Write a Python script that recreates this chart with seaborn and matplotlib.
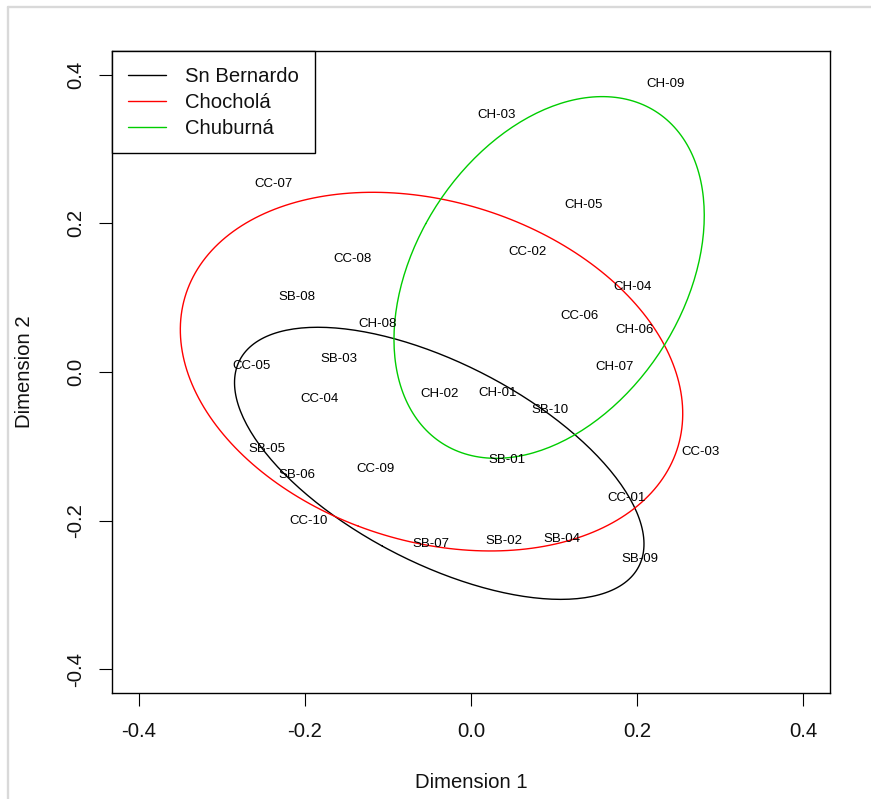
import numpy as np
import pandas as pd
import matplotlib
matplotlib.use("Agg")
import matplotlib.pyplot as plt
from matplotlib.lines import Line2D
import seaborn as sns

# ---------------- data ----------------
sb_labels = ["SB-01", "SB-02", "SB-03", "SB-04", "SB-05", "SB-06", "SB-07", "SB-08", "SB-09", "SB-10"]
sb_x = [0.043, 0.040, -0.159, 0.109, -0.246, -0.209, -0.048, -0.210, 0.203, 0.095]
sb_y = [-0.118, -0.227, 0.017, -0.225, -0.104, -0.138, -0.232, 0.101, -0.252, -0.051]

cc_labels = ["CC-01", "CC-02", "CC-03", "CC-04", "CC-05", "CC-06", "CC-07", "CC-08", "CC-09", "CC-10"]
cc_x = [0.187, 0.068, 0.276, -0.182, -0.264, 0.131, -0.238, -0.143, -0.115, -0.195]
cc_y = [-0.170, 0.161, -0.108, -0.037, 0.008, 0.076, 0.253, 0.152, -0.130, -0.200]

ch_labels = ["CH-01", "CH-02", "CH-03", "CH-04", "CH-05", "CH-06", "CH-07", "CH-08", "CH-09"]
ch_x = [0.032, -0.038, 0.031, 0.194, 0.135, 0.197, 0.173, -0.112, 0.234]
ch_y = [-0.028, -0.029, 0.346, 0.115, 0.225, 0.057, 0.007, 0.065, 0.387]

groups = ["Sn Bernardo", "Chocholá", "Chuburná"]
colors = ["#000000", "#FF0000", "#00CD00"]
x_ticks = [-0.4, -0.2, 0.0, 0.2, 0.4]
y_ticks = [-0.4, -0.2, 0.0, 0.2, 0.4]
conf_level = 0.70

# ---------------- build tables ----------------
pts = pd.DataFrame({
    "label": sb_labels + cc_labels + ch_labels,
    "x": sb_x + cc_x + ch_x,
    "y": sb_y + cc_y + ch_y,
    "group": [groups[0]] * len(sb_x) + [groups[1]] * len(cc_x) + [groups[2]] * len(ch_x),
})

scale = np.sqrt(-2.0 * np.log(1.0 - conf_level))
t = np.linspace(0, 2 * np.pi, 241)
circle = np.vstack([np.cos(t), np.sin(t)])
ell_rows = []
for g in groups:
    sub = pts[pts["group"] == g][["x", "y"]].to_numpy()
    mu = sub.mean(axis=0)
    cov = np.cov(sub.T)
    vals, vecs = np.linalg.eigh(cov)
    e = (vecs @ np.diag(np.sqrt(vals) * scale) @ circle).T + mu
    ell_rows.append(pd.DataFrame({"x": e[:, 0], "y": e[:, 1], "group": g, "order": np.arange(len(e))}))
ell = pd.concat(ell_rows, ignore_index=True)

# ---------------- plot ----------------
sns.set_style("white")
plt.rcParams["font.family"] = ["Liberation Sans", "DejaVu Sans"]
plt.rcParams["axes.unicode_minus"] = False

W, H = 871, 799
fig = plt.figure(figsize=(W / 100, H / 100), dpi=100)
fig.patch.set_facecolor("white")
ax = fig.add_axes([112 / W, 1 - 693 / H, (830 - 112) / W, (693 - 51) / H])

sns.lineplot(data=ell, x="x", y="y", hue="group", hue_order=groups, palette=colors,
             sort=False, estimator=None, units="group", linewidth=1.0, ax=ax, legend=True)

for _, r in pts.iterrows():
    ax.text(r["x"], r["y"], r["label"], ha="center", va="center", fontsize=9.5, color="black")

ax.set_xlim(-0.432, 0.432)
ax.set_ylim(-0.432, 0.432)
ax.set_xticks(x_ticks)
ax.set_yticks(y_ticks)
ax.set_xticklabels([f"{v:.1f}" for v in x_ticks])
ax.set_yticklabels([f"{v:.1f}" for v in y_ticks], rotation=90, va="center")
ax.tick_params(axis="both", direction="out", length=9.2, width=0.8, color="black",
               labelsize=14.6, labelcolor="#111111", bottom=True, left=True)
ax.tick_params(axis="x", pad=12)
ax.tick_params(axis="y", pad=10)
for s in ax.spines.values():
    s.set_color("black")
    s.set_linewidth(1.0)

ax.set_xlabel("Dimension 1", fontsize=14.6, color="#111111")
ax.set_ylabel("Dimension 2", fontsize=14.6, color="#111111")
ax.xaxis.label.set_va("center")
ax.yaxis.label.set_va("center")
ax.xaxis.set_label_coords(0.5, (693 - 782) / (693 - 51))
ax.yaxis.set_label_coords((24 - 112) / (830 - 112), 0.5)

handles, labels = ax.get_legend_handles_labels()
leg = ax.legend(handles, labels, loc="upper left", bbox_to_anchor=(0, 1), borderaxespad=0,
                frameon=True, fancybox=False, edgecolor="black", framealpha=1,
                fontsize=14.6, handlelength=1.87, handletextpad=0.95,
                labelspacing=0.34, borderpad=0.78)
leg.get_frame().set_linewidth(1.0)
for t_ in leg.get_texts():
    t_.set_color("#111111")

# light window frame lines
fig.add_artist(Line2D([8 / W, 8 / W], [0, 1 - 7 / H], color="#d9d9d9", lw=1.7))
fig.add_artist(Line2D([8 / W, 1], [1 - 7 / H, 1 - 7 / H], color="#d9d9d9", lw=1.7))

fig.savefig("out.png", dpi=100, facecolor="white")
